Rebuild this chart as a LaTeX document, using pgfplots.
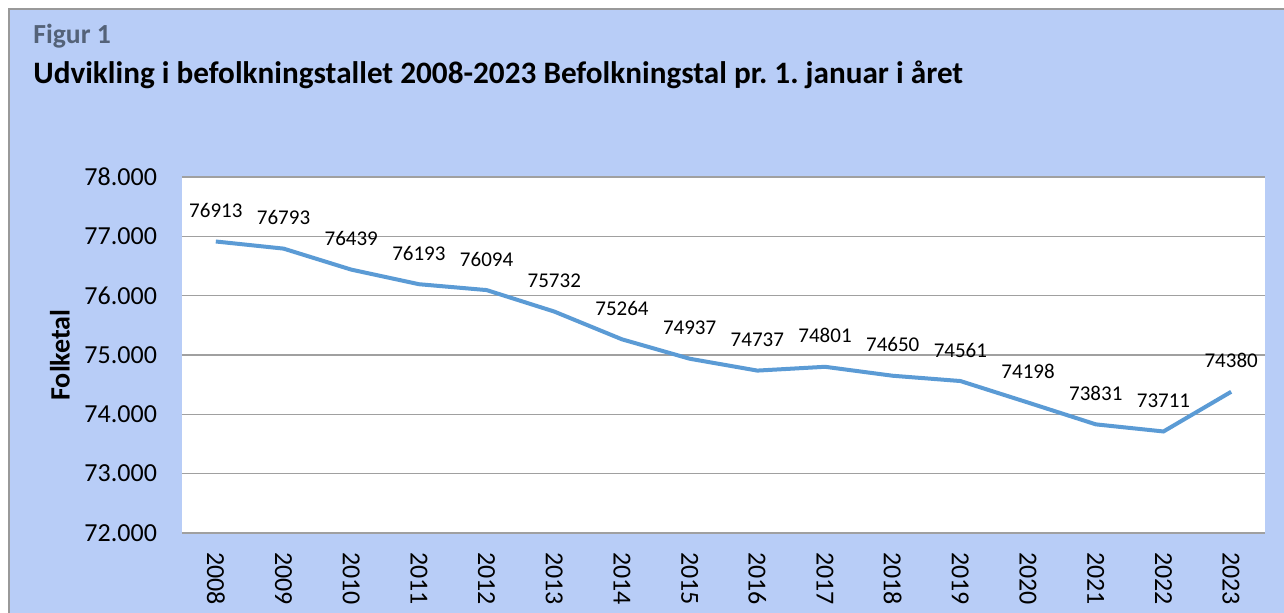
\documentclass[border=0pt]{standalone}
\usepackage{fontspec}
\setmainfont{Carlito}
\usepackage{pgfplots}
\pgfplotsset{compat=1.18}
\definecolor{bgblue}{RGB}{184,205,247}
\definecolor{lineblue}{RGB}{91,155,213}
\definecolor{gridgray}{RGB}{160,160,160}
\definecolor{figgray}{RGB}{84,98,120}
\frenchspacing
\begin{document}
\begin{tikzpicture}[x=1pt,y=1pt]
% 1px = 0.5pt, origin at lower left of plot area (px 182,533)
\useasboundingbox (-91,-40) rectangle (551,266.5);
\fill[white] (-91,-40) rectangle (551,266.5);
\fill[bgblue] (-86.5,-40) rectangle (551,262);
\draw[gray!80,line width=0.8pt] (-86.5,-40) -- (-86.5,262) -- (551,262);
\node[anchor=base west,inner sep=0,font=\fontsize{13.8}{16}\selectfont\bfseries,text=figgray] at (-74.5,244.5) {Figur 1};
\node[anchor=base west,inner sep=0,font=\fontsize{15.6}{18}\selectfont\bfseries] at (-74.5,224.5) {Udvikling i befolkningstallet 2008-2023 Befolkningstal pr. 1. januar i året};
\begin{axis}[
  at={(0,0)}, anchor=south west,
  scale only axis, width=541.5pt, height=178pt,
  xmin=2007.5, xmax=2023.5, ymin=72000, ymax=78000,
  xtick={2008,...,2023}, ytick={72000,73000,...,78000},
  scaled y ticks=false,
  axis line style={draw=none},
  major tick length=0pt,
  ymajorgrids=true,
  grid style={gridgray,line width=0.8pt},
  axis background/.style={fill=white},
  /pgf/number format/assume math mode=true,
  tick label style={font=\fontsize{13}{15}\selectfont},
  y tick label style={/pgf/number format/1000 sep={.}, xshift=-9pt},
  x tick label style={/pgf/number format/1000 sep={}, rotate=-90, anchor=west, xshift=6pt},
  ylabel={\textbf{Folketal}},
  ylabel style={font=\fontsize{14}{16}\selectfont},
  every axis y label/.append style={at={(-61pt,89pt)}, anchor=center},
  clip=false,
]
\addplot[lineblue, line width=2pt,
  nodes near coords={\pgfmathprintnumber[1000 sep={},fixed,precision=0]{\pgfplotspointmeta}},
  every node near coord/.append style={font=\fontsize{10.5}{12}\selectfont, text=black, anchor=base, inner sep=0pt, yshift=12pt}]
  coordinates {
  (2008,76913) (2009,76793) (2010,76439) (2011,76193) (2012,76094)
  (2013,75732) (2014,75264) (2015,74937) (2016,74737) (2017,74801)
  (2018,74650) (2019,74561) (2020,74198) (2021,73831) (2022,73711)
  (2023,74380)};
\end{axis}
\end{tikzpicture}
\end{document}
